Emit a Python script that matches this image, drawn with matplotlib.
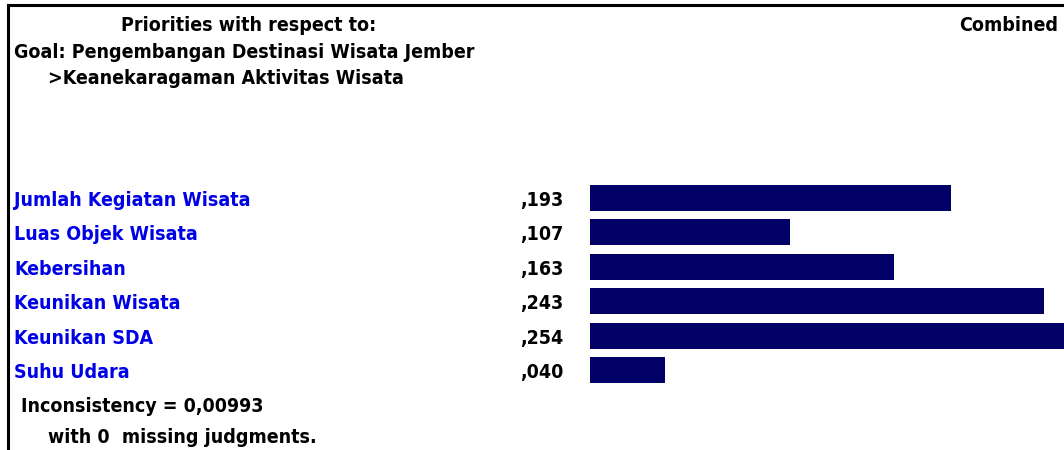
import matplotlib
matplotlib.use("Agg")
import matplotlib.pyplot as plt
from matplotlib.transforms import blended_transform_factory
from matplotlib.lines import Line2D

# data
criteria = ["Jumlah Kegiatan Wisata", "Luas Objek Wisata", "Kebersihan",
            "Keunikan Wisata", "Keunikan SDA", "Suhu Udara"]
priorities = [0.193, 0.107, 0.163, 0.243, 0.254, 0.040]
value_labels = [",193", ",107", ",163", ",243", ",254", ",040"]
goal = "Goal: Pengembangan Destinasi Wisata Jember"
node = ">Keanekaragaman Aktivitas Wisata"
inconsistency = "Inconsistency = 0,00993"
missing = "with 0  missing judgments."

W, H = 1064, 450
plt.rcParams['font.family'] = ['DejaVu Sans']
plt.rcParams['font.stretch'] = 'condensed'
plt.rcParams['font.weight'] = 'bold'

fig = plt.figure(figsize=(W / 100, H / 100), dpi=100)
fig.patch.set_facecolor("white")

# bar axes in pixel layout
left, right = 590, 1064
top, bottom = 180.8, 387.2
ax = fig.add_axes([left / W, 1 - bottom / H, (right - left) / W, (bottom - top) / H])
y = list(range(len(criteria)))
ax.barh(y, priorities, height=0.756, color="#020066")
ax.set_xlim(0, (right - left) / 1868)
ax.set_ylim(len(criteria) - 0.5, -0.5)
ax.axis("off")

fs = 14
tr = blended_transform_factory(fig.transFigure, ax.transData)
for i, (name, lab) in enumerate(zip(criteria, value_labels)):
    ax.text(14 / W, i + 0.23, name, transform=tr, color="#0000e6",
            fontsize=fs, fontweight="bold", fontstretch="condensed",
            va="baseline", ha="left")
    ax.text(563 / W, i + 0.23, lab, transform=tr, color="black",
            fontsize=fs, fontweight="bold", fontstretch="condensed",
            va="baseline", ha="right")

def ftext(x, yb, s, ha="left"):
    fig.text(x / W, 1 - yb / H, s, fontsize=fs, fontweight="bold",
             fontstretch="condensed", va="baseline", ha=ha, color="black")

ftext(249, 31, "Priorities with respect to:", ha="center")
ftext(1058, 31, "Combined", ha="right")
ftext(14, 58, goal)
ftext(48, 84, node)
ftext(21, 412, inconsistency)
ftext(48, 443, missing)

# frame lines
fig.add_artist(Line2D([8 / W, 8 / W], [0, 1 - 5 / H], color="black", lw=2.2,
                      transform=fig.transFigure))
fig.add_artist(Line2D([8 / W, 1], [1 - 5 / H, 1 - 5 / H], color="black", lw=2.2,
                      transform=fig.transFigure))

fig.savefig("out.png", dpi=100)
